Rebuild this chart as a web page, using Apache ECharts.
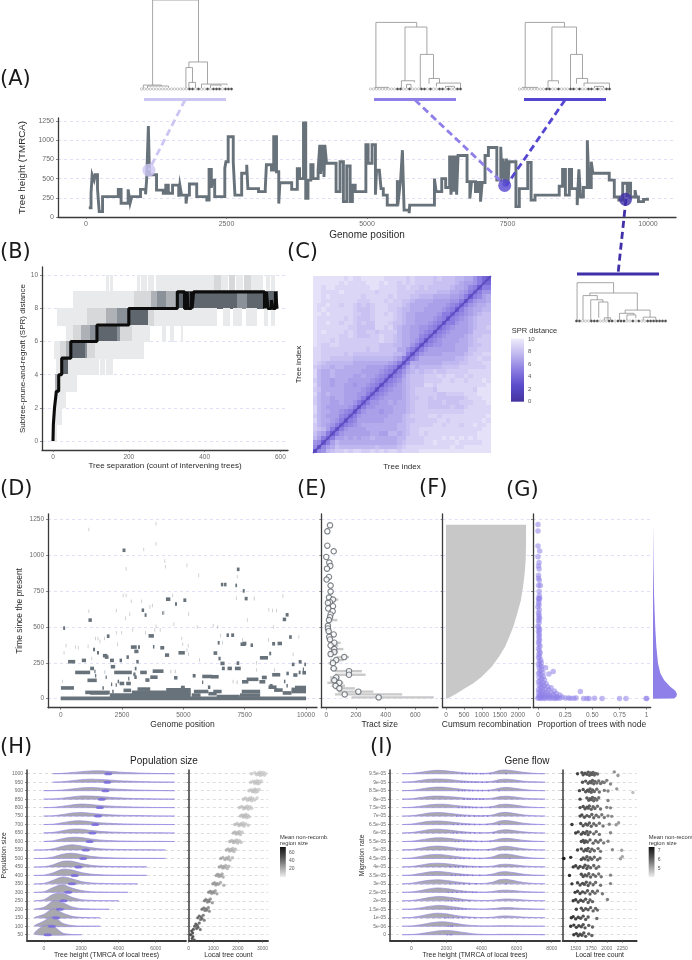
<!DOCTYPE html>
<html><head><meta charset="utf-8"><style>html,body{margin:0;padding:0;background:#fff}#c{width:692px;height:960px}</style>
<script src="https://cdn.jsdelivr.net/npm/echarts@6/dist/echarts.min.js"></script></head>
<body><div id="c"></div>
<script>
// ---------- DATA ----------
const treeHeightSteps=[[50,120],[90,310],[110,550],[145,480],[165,550],[205,370],[235,70],[295,265],[575,360],[625,180],[750,360],[785,180],[815,265],[970,360],[1060,295],[1080,500],[1110,1185],[1130,550],[1210,550],[1255,350],[1375,310],[1420,415],[1465,310],[1540,415],[1650,265],[1670,415],[1700,285],[1780,175],[1800,285],[1840,430],[1970,265],[2150,220],[2190,620],[2230,380],[2250,480],[2290,265],[2470,635],[2490,720],[2530,1045],[2620,720],[2650,285],[2770,570],[2860,680],[2880,370],[3070,330],[3190,370],[3210,680],[3300,610],[3340,1045],[3390,590],[3430,175],[3450,445],[3660,360],[3760,630],[3800,500],[3870,1225],[3910,245],[3950,480],[4000,680],[4040,500],[4130,610],[4160,940],[4175,560],[4190,940],[4205,600],[4220,940],[4235,520],[4250,940],[4280,700],[4450,330],[4520,720],[4580,200],[4640,665],[4700,200],[4740,415],[4790,330],[4980,940],[5020,700],[5090,940],[5150,290],[5170,610],[5220,590],[5250,370],[5290,285],[5360,155],[5540,480],[5570,300],[5600,500],[5630,870],[5660,90],[5750,50],[5760,155],[6200,500],[6230,330],[6330,500],[6400,385],[6470,800],[6495,290],[6520,800],[6545,330],[6570,800],[6595,290],[6620,800],[6780,460],[6830,240],[6860,460],[6930,330],[6970,450],[7020,200],[7050,450],[7100,800],[7160,905],[7310,480],[7380,915],[7400,500],[7420,760],[7450,400],[7480,760],[7510,440],[7530,720],[7650,135],[7710,370],[7860,710],[7920,220],[7990,285],[8420,400],[8480,620],[8530,285],[8600,620],[8640,370],[8740,155],[8770,620],[8800,260],[8850,385],[8920,1000],[8950,385],[8990,720],[9020,570],[9310,480],[9400,260],[9480,220],[9550,440],[9630,260],[9650,440],[9690,260],[9770,350],[9790,260],[9830,200],[9920,230],[9990,250],[10000,250]];
const treeDots=[[1120,610,'#ccc6f3'],[7450,410,'#5546d1'],[9600,230,'#3f2fa8']];

const tree1Nodes=[[3.7,19,270,12,82],[15.8,22,82,65,15],[14.8,17,65,2,20],[15.8,18,20,2,2],[20,28.5,15,2,12],[23,26.5,12,2,8],[0.6,6.6,12,2,9],[2,9,9,2,4]];
const tree1Tips="0000000000000000110100101110111";
const tree2Nodes=[[1.8,15.4,202,5,188],[11.5,18.8,188,25,105],[10.3,14.7,25,2,20],[12,13.5,14,2,2],[16.6,21,105,2,32],[19.5,23,32,16,18],[22,30,18,8,2],[1.5,6,5,2,2],[25,28,8,2,2]];
const tree2Tips="0000000001100100011010011010011";
const tree3Nodes=[[1.9,15,202,5,188],[10.8,19,188,25,105],[9.5,13,25,2,16],[17,21,105,2,32],[19,22.7,32,16,18],[21.5,30,18,8,2],[1,6,5,2,2],[25,28,8,2,2]];
const tree3Tips="0000000001100100011010011010011";
const tree4Nodes=[[0.2,12.5,119,2,87],[4.5,20.5,87,79,34],[2.2,7,79,2,66],[4.8,8.9,66,2,59],[7.5,10.6,59,10,2],[9.4,11.5,10,2,2],[16.4,24.8,34,24,12],[14.5,19.4,24,2,19],[17,20,19,2,9],[22.5,26.7,12,2,4]];
const tree4Tips="1100011100011011100101001111111";

// B : ribbon cells [x from, x to, lower SPR band, shade level]
const sprCells=[[142,147,9,0],[151,157,9,0],[223,229,9,0],[233,246,9,0],[251,264,9,0],[273,427,9,0],[427,445,9,1],[445,460,9,0],[465,480,9,1],[485,500,9,0],[505,520,9,1],[525,554,9,0],[563,572,9,0],[577,585,9,0],
[53,215,8,0],[215,259,8,1],[259,277,8,2],[277,299,8,3],[299,325,8,2],[325,367,8,4],[367,488,8,4],[488,514,8,3],[514,540,8,4],[540,592,8,4],
[13,92,7,0],[92,123,7,1],[123,142,7,1],[142,171,7,2],[171,200,7,3],[200,251,7,4],[251,268,7,1],[268,431,7,0],[449,466,7,0],[475,497,7,0],[510,536,7,0],[558,567,7,0],[576,585,7,0],
[35,55,6,0],[55,75,6,1],[75,99,6,2],[99,121,6,3],[121,171,6,4],[171,178,6,3],[178,209,6,1],[209,255,6,0],[288,296,6,0],[310,317,6,0],[339,341,6,0],
[4,20,5,0],[20,35,5,1],[35,48,5,2],[48,85,5,4],[85,92,5,3],[92,113,5,1],[113,239,5,0],
[9,24,4,0],[24,42,4,4],[42,110,4,0],[112,120,4,0],[125,135,4,0],[140,156,4,0],
[6,13,3,2],[13,62,3,0],[3,33,2,0],[1,22,1,0],[0,9,0,0]];
const sprMedianSteps=[[0,0],[1,1],[4,2],[9,3],[15,4],[23,5],[47,6],[116,7],[200,8],[328,9],[347,8],[354,9],[356,8],[365,9],[367,8],[371,9],[558,8],[563,9],[567,8],[576,8.5],[580,8],[587,9],[591,8],[592,8]];

// C : lower triangle of tree-by-tree SPR distance, a=0 b=.5 ... u=10 (row = larger index)
const sprMatrixRows=["g","lh","mlh","pnki","qonkh","rqpnk h","rponm ki","spoon mkh","rponn nlki","spoon nmlkh","sponn nnnmk h","rpoon nonnm ki","rpoon oonnn mkh","spopo oonnn mmki","rqooo oonnn nmlkh","spoon oonnm nnmlk h","rpoon ooonn nnnml ki","spoop oooon nonnm lkh","spoop ooooo onnnn mlki","rqppo ppooo oonnn nmlkh","srqpp ppppo ooooo oonmk h","ssrrq qqqqp ppppp pppon ki","ssrrr rrqrq qqqqq qqqpp okh","ssrrr rrrrr rrqrr qqqqo omki","tsrrs srrrr rrrrr qqqpp oomkh","tsssr srrrr rrrrr srrqp oonmk h","tssss srrsr qqqrr srrqp oonnl ki","tstss ssrsr qqrrq rrrrp oonnm lkh","tssss sssrr qqqqs srsqp oonnm mlki","tssts srssr qrqqs ssrqq poonn nmlkh","tssss ssrsr qqqrs sssrq poonn nnmlk h","ttsts ssssr rqqrs srsrq poonn nnnmk ki","tstss ssssr qqqrs ssrrq ppooo nnnnm lkh","tssts srssr qrqrs ssrrr qpooo onnnn mlki","ttsss sssss rrrss srsrr qqpoo oonnn nmmkh","ttsts sssss srsss ssrsr rrqqp ppooo onnmk h","ttsss stsss ssssr ssssr rrrqq qqqpp poonm ki","ttstt sssss ssstt ssssr rsrrq rqqqq qpoon lkh","ttttt tstss ssttt stssr srsrr rrqqq qqpon nmki","ttttt ttsts stttt tssss srsrr rrqrq qqppo omkih"];

// D : [start, end, time]
const nodeSpans=[[0,10000,2],[2000,5300,25],[2900,5300,45],[4300,5300,62],[1000,2000,44],[1200,1950,40],[10,540,75],[50,70,120],[5340,5700,25],[5430,6020,50],[6020,6360,35],[6220,6560,50],[6360,7300,15],[7310,8130,25],[7380,8130,50],[8470,8800,80],[8800,9050,60],[9050,9410,40],[9410,10000,65],[9410,10000,50],[9550,10000,78],
[100,180,492],[1130,1270,548],[2520,2640,1035],[300,590,258],[590,1200,183],[1090,1470,128],[860,1030,267],[1200,1360,211],[1320,1400,343],[1480,1560,320],[1880,1990,436],[1720,1900,300],[1800,1950,290],[2010,2170,267],[2040,2220,223],[2180,2900,183],[2400,2500,267],[2680,2780,290],[2860,3100,360],[3150,3230,360],[3000,3170,330],[3080,3180,258],[2400,2590,106],[2670,2860,106],[2560,2870,58],[2960,3050,170],[3000,3100,150],[3240,3510,183],[3450,3620,130],[3130,3650,67],[3300,3400,617],[3420,3500,583],[3580,3800,438],[3760,3820,362],[3750,4190,192],[3650,3950,150],[3870,3900,505],[4060,4220,355],[4250,4420,304],[4290,4470,694],[4140,4190,598],[5000,5120,687],[4660,4740,660],[4800,5060,320],[4620,4760,146],[4900,5060,78],[5380,5500,160],[5770,6160,155],[6130,6440,153],[6230,6380,318],[6400,6480,390],[6510,6680,246],[6430,6520,280],[6530,6630,796],[6660,6760,796],[6800,6980,211],[6570,6690,211],[6760,6860,443],[6950,7070,443],[7170,7280,248],[7100,7340,211],[7180,7290,902],[7120,7190,790],[7500,7620,698],[7330,7540,380],[7420,7570,385],[7740,7840,373],[7420,7500,752],[7870,7910,698],[7580,8060,135],[7390,7650,118],[8100,8340,118],[8200,8400,148],[8120,8450,285],[8500,8580,315],[8620,8740,383],[8840,9020,385],[8620,8950,167],[9050,9190,553],[9170,9290,585],[9310,9420,430],[9420,9530,239],[9480,9650,165],[9700,9780,183],[9200,9300,176],[9700,9820,257],[9870,9920,205],[9850,10000,181],[9930,10000,239],[8520,8640,90],[8700,8850,60],[9200,9260,90],[9100,9160,120],[1700,1760,75],[2100,2160,50],[2240,2290,95],[1400,1450,160],[1830,1880,150],[1780,1820,185],[4470,4510,190],[4650,4690,190],[5760,5810,115],[6000,6100,80],[7170,7210,115],[7010,7050,120],[1370,1420,190],[2320,2380,120],[2750,2800,140],[3020,3090,210],[2050,2100,100],
[200,210,370],[120,130,320],[700,710,355],[580,590,360],[1100,1110,365],[1130,1140,610],[1130,1140,1180],[1500,1510,420],[1400,1410,420],[1580,1590,400],[1250,1260,280],[2250,2260,615],[2650,2660,720],[2530,2540,720],[2620,2630,560],[2800,2810,590],[2860,2870,680],[3280,3290,680],[3870,3880,1220],[3870,3880,1080],[3620,3630,640],[3720,3730,650],[4230,4240,960],[4250,4260,920],[4550,4560,720],[4600,4610,520],[5130,5140,930],[5610,5620,860],[5200,5210,590],[5550,5560,500],[6200,6210,510],[6370,6380,500],[7180,7190,850],[7150,7160,700],[7590,7600,550],[8470,8480,620],[8620,8630,615],[8780,8790,615],[9040,9050,715],[9690,9700,430],[9460,9470,310],[8650,8660,500],[8450,8460,410],[7960,7970,250],[8700,8710,200],[7400,7410,410],[6500,6510,440],[4200,4210,600],[4040,4050,480],[3820,3830,480],[4920,4930,420],[4960,4970,380],[5180,5190,370],[5200,5210,310],[5640,5650,270],[2920,2930,480],[2470,2480,460],[3440,3450,460],[2250,2260,460],[2300,2310,380],[1770,1780,420],[3370,3380,1040],[2650,2660,905],[5130,5140,340],[6580,6590,390],[7970,7980,200]];

// E
const tractPoints=[[25,1209],[7,1167],[7,1067],[50,1028],[0,988],[20,949],[27,926],[5,907],[18,849],[2,831],[29,789],[29,747],[18,705],[45,691],[25,673],[11,668],[45,645],[13,629],[43,610],[29,587],[25,568],[18,548],[11,508],[11,490],[16,471],[50,448],[20,431],[25,413],[54,390],[29,371],[54,346],[54,325],[29,311],[121,290],[67,269],[45,248],[50,211],[153,192],[153,167],[67,148],[54,128],[88,111],[63,90],[88,72],[216,49],[124,30],[353,9]];
const tractRanges=[[9,170,725],[30,58,512],[49,80,317],[72,58,193],[90,36,126],[111,7,115],[167,58,265],[192,58,240],[211,25,75],[248,14,65],[269,25,115],[290,70,153],[346,20,115],[371,29,81],[390,14,97],[548,14,74],[691,25,81],[148,25,90],[128,25,85],[325,15,80],[311,15,60]];

// F
const cumsumRecomb=[[46,2],[296,37],[528,72],[760,107],[990,153],[1270,223],[1470,292],[1640,362],[1760,432],[1870,501],[1980,594],[2080,687],[2140,780],[2185,872],[2213,965],[2222,1058],[2222,1213]];

// G
const nodeProportions=[[0,1215],[0,1170],[0,1065],[.015,1030],[0,990],[.01,950],[.005,925],[.01,905],[.005,860],[.005,840],[.012,825],[.022,790],[.005,790],[.01,750],[.012,720],[.005,700],[.01,690],[.015,700],[.005,670],[.01,655],[0,640],[.012,620],[.005,600],[.01,585],[.008,570],[.015,560],[.005,545],[.01,530],[0,505],[.008,495],[.015,480],[.005,470],[.01,455],[.012,440],[.008,425],[.015,410],[.005,395],[.01,380],[.018,365],[.005,350],[.012,335],[.02,320],[.008,310],[.015,295],[.005,285],[.025,270],[.012,260],[.03,250],[.005,240],[.02,230],[.035,222],[.01,215],[.07,215],[.14,190],[.1,172],[.03,200],[.015,190],[.045,182],[.005,175],[.025,165],[.05,155],[.01,150],[.035,140],[.06,130],[.02,125],[.005,118],[.045,112],[.075,105],[.03,100],[.01,95],[.055,90],[.09,84],[.025,80],[.12,76],[.04,72],[.065,68],[.005,64],[.1,60],[.02,56],[.15,54],[.045,50],[.39,50],[.08,46],[.12,42],[.005,42],[.03,38],[.17,36],[.06,34],[.09,30],[.14,28],[.2,26],[.015,26],[.04,22],[.11,20],[.07,18],[.16,16],[.005,14],[.22,12],[.03,12],[.1,10],[.18,9],[.05,8],[.13,6],[.015,5],[.08,4],[.2,3],[.25,4],[.28,4],[.3,3],[.33,3],[.35,4],[.42,2],[.45,2],[.47,2],[.52,3],[.59,1],[.75,2],[.81,1],[1,1],[.995,1],[0,3],[.03,2],[.06,1],[.11,2],[.15,2],[.17,3]];
const densityProfile=[[0,0],[.88,1],[.97,14],[1,32],[.93,55],[.72,84],[.46,130],[.31,176],[.21,246],[.14,362],[.1,478],[.07,594],[.043,733],[.02,942],[0,1220]];

// H
const popSizeRows=[1000,950,900,850,800,750,700,650,600,550,500,450,400,350,300,250,200,150,100,50];
const popRidgeX=[-500,0,500,1000,1500,2000,2500,3000,3500,4000,4500,5000,5500,6000,6500,7000];
const popRidges=[
[0,0,0,5,14,24,33,34,28,20,14,9,6,3,2,0],[0,0,0,6,18,30,36,32,26,18,13,9,6,3,2,0],[0,0,2,8,20,33,38,32,24,17,12,8,5,3,1,0],[0,0,3,12,26,38,36,30,22,15,10,7,5,3,1,0],[0,0,4,16,32,42,36,26,19,13,9,6,4,2,1,0],[0,0,4,18,36,42,34,24,16,11,8,6,4,2,1,0],[0,0,5,22,40,44,34,22,15,10,7,5,3,2,1,0],[0,0,8,28,46,46,32,20,13,9,6,4,3,2,1,0],[0,0,10,34,50,46,30,18,11,7,5,3,2,2,1,0],[0,1,14,44,62,48,28,15,9,6,4,3,2,1,0,0],[0,1,18,50,62,46,26,14,8,5,3,2,2,1,0,0],[0,2,26,66,68,40,20,10,6,4,2,1,0,0,0,0],[0,3,32,72,64,34,16,8,4,2,2,1,0,0,0,0],[0,6,44,82,60,28,12,6,3,1,1,0,0,0,0,0],[0,8,58,90,50,22,8,4,2,1,0,0,0,0,0,0],[0,14,78,88,42,14,6,2,1,0,0,0,0,0,0,0],[0,24,96,78,28,8,3,1,0,0,0,0,0,0,0,0],[0,40,110,56,18,5,1,0,0,0,0,0,0,0,0,0],[2,62,116,36,8,2,1,0,0,0,0,0,0,0,0,0],[6,110,100,20,2,0,0,0,0,0,0,0,0,0,0,0]];
const popMedians=[3450,3400,3300,3100,3000,2900,2750,2600,2450,2250,2100,1850,1650,1500,1300,1050,850,650,420,200];
const popTreeCounts=[
[2550,2680,2760,2820,2860,2890,2910,2940,2980,3030,3080,3120],[2520,2620,2680,2720,2750,2780,2810,2850,2890,2950],[2450,2530,2590,2630,2660,2690,2720,2760,2800,2860],[2220,2310,2390,2440,2480,2520,2560,2610,2680,2780],[2060,2160,2230,2290,2340,2380,2430,2490,2560],[2100,2170,2220,2260,2290,2320,2360,2400,2460],[1880,1970,2040,2100,2150,2200,2250,2310,2420],[1810,1880,1930,1980,2020,2060,2100,2170],[1670,1750,1810,1860,1900,1950,2000,2060,2130],[1530,1600,1660,1710,1750,1790,1840,1900],[1300,1390,1470,1530,1580,1630,1680,1780],[1240,1320,1380,1420,1460,1510,1570,1630],[1120,1180,1230,1270,1310,1360,1400],[980,1050,1100,1150,1210,1290,1430],[810,880,930,980,1030,1080,1150],[640,700,760,800,840,880,960],[540,610,660,700,740,800,840],[370,430,480,510,540,590,630],[240,290,320,350,380,430,470],[80,120,140,160,170,190,230]];

// I
const migRows=['9.5e-05','9e-05','8.5e-05','8e-05','7.5e-05','7e-05','6.5e-05','6e-05','5.5e-05','5e-05','4.5e-05','4e-05','3.5e-05','3e-05','2.5e-05','2e-05','1.5e-05','1e-05','5e-06','0'];
const migRidgeX=[-500,0,500,1000,1500,2000,2500,3000,3500,3900,4300,4700,5000,5400,5900,6400,7000,7600];
const migRidges=[
[0,4,16,32,40,34,22,12,6,4,6,18,38,44,32,16,5,0],[0,5,20,34,38,34,24,14,7,4,5,14,30,36,26,12,4,0],[0,4,18,34,42,38,26,14,7,4,5,14,30,38,28,14,4,0],[0,4,18,32,36,32,24,14,8,5,6,14,28,34,26,12,4,0],[0,4,16,32,40,38,26,16,8,5,6,16,34,40,30,14,4,0],[0,4,18,36,42,36,24,14,8,5,6,16,36,44,30,14,4,0],[0,6,22,38,42,36,24,14,7,4,6,18,40,48,34,16,5,0],[0,6,22,40,46,38,26,14,7,4,4,12,30,38,28,14,4,0],[0,4,18,34,44,40,28,16,8,4,5,14,30,38,28,14,4,0],[0,5,20,38,46,38,24,14,7,4,5,16,36,44,30,14,4,0],[0,6,24,42,48,38,24,12,6,4,7,22,46,52,38,18,5,0],[0,5,20,38,44,38,26,15,7,4,4,12,26,32,24,12,4,0],[0,5,22,40,46,38,24,13,6,4,6,18,38,44,30,14,4,0],[0,8,26,42,48,40,26,13,6,4,8,24,48,54,36,16,5,0],[0,5,20,40,52,44,28,15,7,4,4,12,22,26,20,10,4,0],[0,4,18,38,52,46,32,16,8,4,4,8,16,22,18,10,3,0],[0,3,16,34,46,40,26,12,6,3,4,8,16,20,16,8,3,0],[0,4,20,42,54,46,28,14,6,3,3,8,18,22,16,8,3,0],[0,3,16,36,50,50,34,18,8,4,3,4,5,5,4,2,1,0],[0,2,12,28,44,50,42,26,12,5,3,3,4,4,4,3,2,0]];
const migMedians=[
[2900,3100,3300,3500,3700,3950,4100,4500,5400],[2850,3050,3200,3450,3650,3800,4050,4300,4900],[2700,2900,3050,3300,3500,3800,4050,4400,5000],[3000,3200,3350,3500,3700,3900,4100],[2700,2900,3100,3300,3500,3700,4000,4500],[2600,2800,3050,3300,3600,3850,4100,4350],[2400,2650,2900,3100,3300,3600,3900,4300,5000],[2400,2600,2850,3100,3350,3600,3900,4700],[2500,2700,3000,3200,3400,3700,4000,4500],[2600,2800,3000,3200,3500,3800,4400],[2200,2500,2800,3000,3300,3600,3900,5600],[2200,2500,2700,2950,3150,3500,3900],[2300,2500,2800,3000,3200,3500,3900],[2200,2500,2750,3000,3300,3700,5400],[2100,2350,2600,2850,3100,3500,3700],[2100,2300,2500,2700,2900,3300],[2100,2300,2500,2700,2900,3100],[1900,2100,2400,2700,2900,3300,3600],[2100,2250,2350],[2050,2200,2300]];
const migTreeCounts=[
[1530,1600,1620,1650,1680,1700,1720,1740,1760,1780,1800,1820,1850,2120,2180],[1610,1660,1700,1730,1750,1770,1790,1810,1840,1870,1900,1930,1960,2000,2060],[1560,1620,1660,1690,1710,1730,1750,1770,1800,1840,1880,1960,2020,2160,2420],[1570,1680,1710,1730,1750,1770,1790,1810,1840,1870,2020],[1570,1620,1650,1680,1700,1720,1750,1780,1810,1850,1900,2000,2060],[1570,1600,1640,1680,1720,1760,1790,1830,1870,1920,1960,2020,2080],[1440,1580,1620,1660,1690,1720,1750,1790,1830,1880,1940,2040,2150,2190],[1500,1540,1590,1620,1650,1680,1700,1730,1790,1830,1880,2060],[1590,1620,1640,1660,1690,1730,1780,1820,1860,1900,1950,2020],[1530,1590,1630,1660,1680,1700,1730,1760,1800,1860,1900,2090,2240],[1310,1420,1590,1620,1650,1680,1700,1730,1760,1800,1850,1890,2220,2250],[1460,1500,1540,1570,1620,1650,1680,1700,1740,1790,1830,1870],[1400,1590,1620,1650,1680,1710,1740,1780,1820,1870,1910,2060],[1440,1530,1570,1610,1640,1670,1700,1730,1780,1820,1900,2060],[1490,1530,1570,1610,1650,1690,1730,1770,1810,1850,1930],[1460,1500,1540,1580,1620,1660,1700,1730,1770,2010],[1510,1590,1620,1660,1700,1740,1780,1820,1850],[1430,1460,1500,1540,1580,1620,1660,1700,1840],[1420,1470,1510,1550,1590,1620,1650,1710,1770],[1470,1510,1540,1570,1600,1630,1660,1710,1760]];

// annotation paths on the page (connector lines & tree bars)
const connectorPaths=[[[185,100],[149,170],'#ccc6f3'],[[415,100],[506,186],'#8e80e8'],[[565,100],[506,186],'#5546d1'],[[626,199],[618,274],'#3f2fa8']];
const treeBars=[[144,226,99.5,'#ccc6f3'],[374,456,99.5,'#8e80e8'],[524,606,99.5,'#5546d1'],[577,659,274,'#3f2fa8']];

// ---------- STYLES / HELPERS ----------
const FONT='"Liberation Sans",Arial,sans-serif', SLATE='#68727a', AXC='#3a3a3a', LILAC='#dbd7f8';
function axis(gridIndex,type,o){
  const lf=o.fs||7;
  return {type:'value',gridIndex,min:o.min,max:o.max,scale:true,show:o.show!==false,
    name:o.name||'',nameLocation:'middle',nameGap:o.gap||14,
    nameTextStyle:{fontFamily:FONT,fontSize:o.nfs||9.5,color:'#2b2b2b'},
    axisLine:{show:o.line!==false,onZero:false,lineStyle:{color:AXC,width:o.lw||1.3}},
    axisTick:{show:!!o.ticks&&o.line!==false,length:2,customValues:o.ticks,lineStyle:{color:'#555',width:.7}},
    axisLabel:{show:!!o.ticks&&o.labels!==false,customValues:o.ticks,margin:o.margin||4,fontFamily:FONT,fontSize:lf,color:'#6a6a6a',
      formatter:o.fmt||(v=>String(v)),hideOverlap:false,showMinLabel:true,showMaxLabel:true},
    splitLine:{show:!!o.split,lineStyle:{type:[3,3],color:o.split||LILAC,width:.8}}};
}
const grids=[],xAxes=[],yAxes=[],series=[];
function panel(box,x,y){
  const i=grids.length;
  grids.push({left:box[0],top:box[1],width:box[2]-box[0],height:box[3]-box[1],containLabel:false});
  xAxes.push(axis(i,'x',x)); yAxes.push(axis(i,'y',y)); return i;
}
const rectItem=(api,x0,x1,y0,y1,style)=>{
  const a=api.coord([x0,y0]),b=api.coord([x1,y1]);
  const L=Math.floor(a[0]),R=Math.ceil(b[0]),T=Math.floor(b[1]),B=Math.ceil(a[1]);
  return {type:'rect',shape:{x:L,y:T,width:Math.max(R-L,1),height:Math.max(B-T,1)},style};
};

// A
const gA=panel([58,118,676,217],{min:-498,max:10498,ticks:[0,2500,5000,7500,10000],name:'Genome position',gap:13,nfs:10},{min:0,max:1289,ticks:[0,250,500,750,1000,1250],split:LILAC,name:'Tree height (TMRCA)',gap:19,nfs:9.8});
series.push({type:'line',xAxisIndex:gA,yAxisIndex:gA,data:treeHeightSteps,step:'end',showSymbol:false,lineStyle:{color:SLATE,width:2.9,join:'miter'},z:3,clip:false});

// B
const SHADES=['#e9eaeb','#d6d8da','#aeb2b7','#8b9198','#5f666d'];
const gB=panel([42,267,288,450],{min:-29,max:620,ticks:[0,200,400,600],name:'Tree separation (count of intervening trees)',gap:12,nfs:8,fs:6.5},{min:-.543,max:10.5,ticks:[0,2,4,6,8,10],split:LILAC,name:'Subtree-prune-and-regraft (SPR) distance',gap:15,nfs:8,fs:6.5});
series.push({type:'custom',xAxisIndex:gB,yAxisIndex:gB,data:sprCells,z:2,renderItem:(p,api)=>rectItem(api,api.value(0),api.value(1),api.value(2),api.value(2)+1,{fill:SHADES[api.value(3)]})});
series.push({type:'line',xAxisIndex:gB,yAxisIndex:gB,data:sprMedianSteps,step:'end',showSymbol:false,lineStyle:{color:'#0c0c0c',width:3.1},z:3});

// C
const matrixCells=[];
sprMatrixRows.forEach((row,r)=>{[...row.replace(/ /g,'')].forEach((ch,c)=>{
  const v=(ch.charCodeAt(0)-97)/2; matrixCells.push([c,r,v]); if(c!==r) matrixCells.push([r,c,v]);});});
const gC=panel([313,276,491,453],{min:0,max:40,line:false,name:'Tree index',gap:10,nfs:8},{min:0,max:40,line:false,name:'Tree index',gap:10,nfs:8});
const seriesC=series.length;
series.push({type:'custom',xAxisIndex:gC,yAxisIndex:gC,data:matrixCells,dimensions:['c','r','v'],encode:{x:0,y:1},z:2,
  renderItem:(p,api)=>rectItem(api,api.value(0),api.value(0)+1,api.value(1),api.value(1)+1,{fill:api.visual('color')})});
series.push({type:'line',xAxisIndex:gC,yAxisIndex:gC,data:[[0,0],[40,40]],showSymbol:false,lineStyle:{color:'#4636ab',width:2,opacity:.5},z:3});

// D E F G share time scale
const tY={min:-62.8,max:1288};
const tT=[0,250,500,750,1000,1250];
const gD=panel([48,514,317,707.7],{min:-518,max:10448,ticks:[0,2500,5000,7500,10000],name:'Genome position',gap:12,nfs:8.5,fs:6.5},{...tY,ticks:tT,split:LILAC,name:'Time since the present',gap:24,nfs:8.5,fs:6.5});
series.push({type:'custom',xAxisIndex:gD,yAxisIndex:gD,data:nodeSpans,z:2,renderItem:(p,api)=>{
  const a=api.coord([api.value(0),api.value(2)]),b=api.coord([api.value(1),api.value(2)]);
  const w=b[0]-a[0],thin=w<1;
  return {type:'rect',shape:{x:a[0],y:a[1]-1.8,width:Math.max(w,.8),height:3.6},style:{fill:SLATE,opacity:thin?.4:1}};}});

const gE=panel([321.3,514,438,707.7],{min:-33.7,max:753,ticks:[0,200,400,600],name:'Tract size',gap:12,nfs:8.5,fs:6.5},{...tY,ticks:tT,split:LILAC,labels:false});
series.push({type:'custom',xAxisIndex:gE,yAxisIndex:gE,data:tractRanges,z:2,renderItem:(p,api)=>{
  const a=api.coord([api.value(1),api.value(0)]),b=api.coord([api.value(2),api.value(0)]);
  return {type:'rect',shape:{x:a[0],y:a[1]-1.2,width:b[0]-a[0],height:2.4},style:{fill:'#c9c9c9'}};}});
series.push({type:'scatter',xAxisIndex:gE,yAxisIndex:gE,data:tractPoints,symbolSize:5.4,z:3,itemStyle:{color:'#fff',borderColor:'#5c646b',borderWidth:1.1}});

const gF=panel([442.7,514,530.7,707.7],{min:-92,max:2353,ticks:[0,500,1000,1500,2000],name:'Cumsum recombination',gap:12,nfs:8.5,fs:6.5},{...tY,ticks:tT,split:LILAC,labels:false});
series.push({type:'custom',xAxisIndex:gF,yAxisIndex:gF,data:[[0]],z:2,renderItem:(p,api)=>{
  const pts=cumsumRecomb.map(d=>api.coord(d));
  pts.push(api.coord([0,1213]),api.coord([0,2]));
  return {type:'polygon',shape:{points:pts},style:{fill:'#c8c8c8'}};}});

const gG=panel([533,514,650.7,707.7],{min:-.046,max:1.037,ticks:[0,.25,.5,.75,1],fmt:v=>v===0?'0':v===1?'1':v.toFixed(2),name:'Proportion of trees with node',gap:12,nfs:8.5,fs:6.5},{...tY,ticks:tT,split:LILAC,labels:false});
series.push({type:'scatter',xAxisIndex:gG,yAxisIndex:gG,data:nodeProportions,symbolSize:5.5,z:3,itemStyle:{color:'#8e80e8',opacity:.55}});
const gG2=panel([653,514,677,707.7],{min:0,max:1,show:false},{...tY,show:false});
series.push({type:'custom',xAxisIndex:gG2,yAxisIndex:gG2,data:[[0]],z:2,renderItem:(p,api)=>{
  const pts=densityProfile.map(d=>api.coord(d));
  return {type:'polygon',shape:{points:pts},style:{fill:'#8e80e8'}};}});

// H / I ridges
function ridgeSeries(g,xs,rows){
  return {type:'custom',xAxisIndex:g,yAxisIndex:g,data:rows.map((_,i)=>[i]),z:3,renderItem:(p,api)=>{
    const i=p.dataIndex,h=rows[i],row=rows.length-1-i;
    let a=0,b=h.length-1; while(a<b&&h[a+1]===0)a++; while(b>a&&h[b-1]===0)b--;
    const pts=[]; for(let k=a;k<=b;k++) pts.push(api.coord([xs[k],row+h[k]/100]));
    return {type:'polygon',shape:{points:pts,smooth:.3},style:{fill:'#a2a2a6',stroke:'#9488e4',lineWidth:.7,opacity:.92}};}};
}
function swarm(rows,scales){
  const off=[0,.22,-.22,.1,-.1,.32,-.32,.16,-.16,.27,-.27,.05,-.05,.36,-.36];
  const out=[];rows.forEach((r,i)=>r.forEach((x,k)=>out.push([x,rows.length-1-i+off[k%off.length]*scales[i]])));return out;
}
const rowIdx=[...Array(20).keys()];
const rowY={min:-.708,max:19.44};
const popSwarmHeight=[.55,.55,.55,.55,.55,.55,.55,.55,.55,.55,.55,.55,.55,.55,.55,.7,.7,.9,1.2,2];
const migSwarmHeight=[.6,.6,.6,.6,.6,.6,.6,.6,.6,.6,.6,.6,.6,.6,.6,.6,.6,.6,.6,.6];
const gH=panel([26.7,770,186,940.7],{min:-911,max:7626,ticks:[0,2000,4000,6000],name:'Tree height (TMRCA of local trees)',gap:11,nfs:6.8,fs:5,margin:5,lw:1.8},{...rowY,ticks:rowIdx,fmt:v=>String(popSizeRows[19-v]),split:'#d4d4d4',name:'Population size',gap:15,nfs:6.8,fs:5,lw:1.5});
const gH2=panel([188.7,770,268,940.7],{min:0,max:3224,ticks:[0,1000,2000,3000],name:'Local tree count',gap:11,nfs:6.8,fs:5,margin:5,lw:1.8},{...rowY,ticks:rowIdx,split:'#d4d4d4',labels:false,lw:1.5});
const gI=panel([390,770,560,940.7],{min:-1214,max:8473,ticks:[0,2000,4000,6000,8000],name:'Tree height (TMRCA of local trees)',gap:11,nfs:6.8,fs:5,margin:5,lw:1.8},{...rowY,ticks:rowIdx,fmt:v=>migRows[19-v],split:'#d4d4d4',name:'Migration rate',gap:22,nfs:6.8,fs:5,lw:1.5});
const gI2=panel([562.7,770,636.7,940.7],{min:1291,max:2481,ticks:[1500,1750,2000,2250],name:'Local tree count',gap:11,nfs:6.8,fs:5,margin:5,lw:1.8},{...rowY,ticks:rowIdx,split:'#d4d4d4',labels:false,lw:1.5});
series.push(ridgeSeries(gH,popRidgeX,popRidges));
series.push({type:'scatter',xAxisIndex:gH,yAxisIndex:gH,data:popMedians.map((x,i)=>[x,19-i]),symbol:'circle',symbolSize:[8,3],z:4,itemStyle:{color:'#7a6bdc',opacity:.9}});
const seriesH2=series.length;
series.push({type:'scatter',xAxisIndex:gH2,yAxisIndex:gH2,data:swarm(popTreeCounts,popSwarmHeight),symbolSize:3,z:4,itemStyle:{borderColor:'#a0a0a0',borderWidth:.25}});
series.push(ridgeSeries(gI,migRidgeX,migRidges));
series.push({type:'scatter',xAxisIndex:gI,yAxisIndex:gI,data:migMedians.flatMap((r,i)=>r.map(x=>[x,19-i])),symbolSize:1.6,z:4,itemStyle:{color:'#7a6bdc',opacity:.8}});
const seriesI2=series.length;
series.push({type:'scatter',xAxisIndex:gI2,yAxisIndex:gI2,data:swarm(migTreeCounts,migSwarmHeight),symbolSize:3.4,z:4,itemStyle:{opacity:.95}});

// trees
function treeGrid(box,xMax,yMax,nodes,tips){
  const g=panel(box,{min:-0.5,max:xMax,show:false},{min:-3,max:yMax,show:false});
  series.push({type:'custom',xAxisIndex:g,yAxisIndex:g,data:nodes,z:2,renderItem:(p,api)=>{
    const xl=api.value(0),xr=api.value(1),h=api.value(2),hl=api.value(3),hr=api.value(4);
    return {type:'polyline',shape:{points:[api.coord([xl,hl]),api.coord([xl,h]),api.coord([xr,h]),api.coord([xr,hr])]},style:{stroke:'#8f8f8f',fill:null,lineWidth:.8}};}});
  series.push({type:'scatter',xAxisIndex:g,yAxisIndex:g,data:[...tips].map((t,i)=>[i,0,+t]),symbolSize:2.4,z:3,itemStyle:{color:p=>p.data[2]?'#222':'#fff',borderColor:'#666',borderWidth:.4}});
}
treeGrid([140,0,233,90],30.5,270,tree1Nodes,tree1Tips);
treeGrid([369,0,462,90],30.5,270,tree2Nodes,tree2Tips);
treeGrid([518,0,611,90],30.5,270,tree3Nodes,tree3Tips);
treeGrid([575,282.7,667,322],30.5,119,tree4Nodes,tree4Tips);

// overlay for connectors
const gO=panel([0,0,692,960],{min:0,max:692,show:false},{min:960,max:0,show:false});
yAxes[gO].inverse=true; yAxes[gO].min=0; yAxes[gO].max=960;
connectorPaths.forEach(c=>series.push({type:'line',xAxisIndex:gO,yAxisIndex:gO,data:[c[0],c[1]],showSymbol:false,z:5,lineStyle:{color:c[2],width:2.8,type:[7,4]}}));
treeBars.forEach(b=>series.push({type:'line',xAxisIndex:gO,yAxisIndex:gO,data:[[b[0],b[2]],[b[1],b[2]]],showSymbol:false,z:5,lineStyle:{color:b[3],width:3}}));
treeDots.forEach(d=>series.push({type:'scatter',xAxisIndex:gA,yAxisIndex:gA,data:[[d[0],d[1]]],symbolSize:13,z:6,clip:false,itemStyle:{color:d[2]}}));

// text
const T=(x,y,text,fs,extra)=>({type:'text',x,y,silent:true,style:{text,fontFamily:extra&&extra.ff||FONT,fontSize:fs,fill:extra&&extra.fill||'#333',verticalAlign:'middle',align:extra&&extra.align||'left'}});
const letterFont='"DejaVu Sans",sans-serif';
const letters=[['(A)',0,80],['(B)',0,253],['(C)',287,253],['(D)',0,490],['(E)',297,490],['(F)',419,489],['(G)',506,491],['(H)',0,748],['(I)',370,748]];
const graphic=letters.map(l=>T(l[1],l[2],l[0],21,{ff:letterFont,fill:'#1a1a1a'}));
graphic.push(T(164,761.7,'Population size',10,{align:'center',fill:'#222'}),T(527,761.7,'Gene flow',10,{align:'center',fill:'#222'}));
graphic.push(T(511.7,331,'SPR distance',7.5));
const sprRamp=['#44349f','#5a4bcb','#8a7ce0','#bfb7ef','#eeebfb'];
graphic.push({type:'rect',shape:{x:511,y:338.7,width:13,height:63},style:{fill:{type:'linear',x:0,y:1,x2:0,y2:0,colorStops:sprRamp.map((c,i)=>({offset:i/4,color:c}))}}});
[[10,339],[8,351.5],[6,364],[4,376.7],[2,389],[0,401.7]].forEach(v=>graphic.push(T(528,v[1],String(v[0]),6,{fill:'#555'})));
const grayBar=[{offset:0,color:'#111'},{offset:.35,color:'#555'},{offset:.7,color:'#aaa'},{offset:1,color:'#eee'}];
const legendGray=(x,title1,title2,labels)=>{
  graphic.push(T(x,837,title1,5.8),T(x,843,title2,5.8));
  graphic.push({type:'rect',shape:{x,y:847,width:5.8,height:30},style:{fill:{type:'linear',x:0,y:0,x2:0,y2:1,colorStops:grayBar}}});
  labels.forEach(l=>graphic.push(T(x+9,l[1],l[0],5,{fill:'#555'})));
};
legendGray(280,'Mean non-recomb.','region size',[['60',853],['40',861],['20',869]]);
legendGray(648.7,'Mean non-recomb.','region size',[['7',851],['6',860],['5',869]]);

const chart=echarts.init(document.getElementById('c'),null,{renderer:'canvas'});
chart.setOption({animation:false,backgroundColor:'#fff',tooltip:{show:false},legend:{show:false},
  grid:grids,xAxis:xAxes,yAxis:yAxes,series,graphic,
  visualMap:[
   {type:'continuous',seriesIndex:seriesC,dimension:2,min:0,max:10,show:false,inRange:{color:sprRamp}},
   {type:'continuous',seriesIndex:seriesH2,dimension:0,min:0,max:3000,show:false,inRange:{color:['#111','#555','#888','#a8a8a8','#bbb','#c8c8c8','#d2d2d2']}},
   {type:'continuous',seriesIndex:seriesI2,dimension:0,min:1300,max:2400,show:false,inRange:{color:['#111','#444','#666','#8a8a8a','#bdbdbd']}}
  ]});
</script></body></html>
